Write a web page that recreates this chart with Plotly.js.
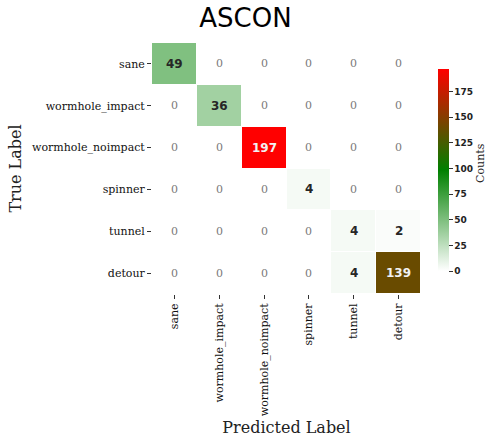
<!DOCTYPE html>
<html>
<head>
<meta charset="utf-8">
<script src="https://cdn.plot.ly/plotly-3.0.1.min.js"></script>
<style>html,body{margin:0;padding:0;background:#fff;}#chart{width:491px;height:437px;}</style>
</head>
<body>
<div id="chart"></div>
<script>
const trueLabels = ["sane","wormhole_impact","wormhole_noimpact","spinner","tunnel","detour"];
const predLabels = ["sane","wormhole_impact","wormhole_noimpact","spinner","tunnel","detour"];
const counts = [
  [49, 0, 0, 0, 0, 0],
  [0, 36, 0, 0, 0, 0],
  [0, 0, 197, 0, 0, 0],
  [0, 0, 0, 4, 0, 0],
  [0, 0, 0, 0, 4, 2],
  [0, 0, 0, 0, 4, 139]
];
const colorbarTicks = [0, 25, 50, 75, 100, 125, 150, 175];
const colorbarTitle = 'Counts';

const zmax = Math.max(...counts.flat());
const annotations = [];
counts.forEach((row, i) => {
  row.forEach((v, j) => {
    const frac = v / zmax;
    const dark = frac > 0.6;
    annotations.push({
      x: predLabels[j], y: trueLabels[i], xref: 'x', yref: 'y',
      text: String(v), showarrow: false,
      font: v === 0
        ? {family: 'DejaVu Serif', size: 11, color: '#7a7a7a'}
        : {family: 'DejaVu Sans', size: 12, color: dark ? '#f2f2f2' : '#262626', weight: 'bold'}
    });
  });
});
annotations.push({
  text: colorbarTitle, xref: 'paper', yref: 'paper', x: 0.9705, y: 0.522,
  xanchor: 'center', yanchor: 'middle', textangle: -90, showarrow: false,
  font: {family: 'DejaVu Serif', size: 11, color: '#222'}
});

const data = [{
  type: 'heatmap',
  x: predLabels, y: trueLabels, z: counts,
  zmin: 0, zmax: zmax,
  colorscale: [[0, '#ffffff'], [0.5, '#008000'], [1, '#ff0000']],
  xgap: 1, ygap: 1,
  hoverinfo: 'skip',
  colorbar: {
    thickness: 11, len: 202, lenmode: 'pixels',
    x: 0.8437, xanchor: 'left', xpad: 0, y: 0.494, yanchor: 'middle', ypad: 0,
    outlinewidth: 0,
    tickvals: colorbarTicks, ticktext: colorbarTicks.map(String),
    ticks: 'outside', ticklen: 4, tickcolor: '#333',
    tickfont: {family: 'DejaVu Sans', size: 9, color: '#222', weight: 'bold'}
  }
}];

const layout = {
  width: 491, height: 437,
  margin: {l: 152, r: 0, t: 43, b: 143, autoexpand: false},
  paper_bgcolor: '#fff', plot_bgcolor: '#fff',
  title: {text: 'ASCON', x: 0.5, xref: 'container', y: 0.959, yref: 'container', xanchor: 'center', yanchor: 'middle',
          font: {family: 'DejaVu Sans', size: 26, color: '#000'}},
  xaxis: {
    type: 'category', domain: [0, 0.7935], tickangle: -90, ticks: 'outside', ticklen: 4, tickcolor: '#333',
    showgrid: false, zeroline: false, showline: false,
    tickfont: {family: 'DejaVu Serif', size: 11, color: '#111'},
    title: {text: 'Predicted Label', standoff: 8, font: {family: 'DejaVu Serif', size: 16, color: '#222'}}
  },
  yaxis: {
    type: 'category', autorange: 'reversed', ticks: 'outside', ticklen: 4, tickcolor: '#333',
    showgrid: false, zeroline: false, showline: false,
    tickfont: {family: 'DejaVu Serif', size: 11, color: '#111'},
    title: {text: 'True Label', standoff: 6, font: {family: 'DejaVu Serif', size: 16, color: '#222'}}
  },
  annotations: annotations
};

Plotly.newPlot('chart', data, layout, {displayModeBar: false, staticPlot: true});
</script>
</body>
</html>
